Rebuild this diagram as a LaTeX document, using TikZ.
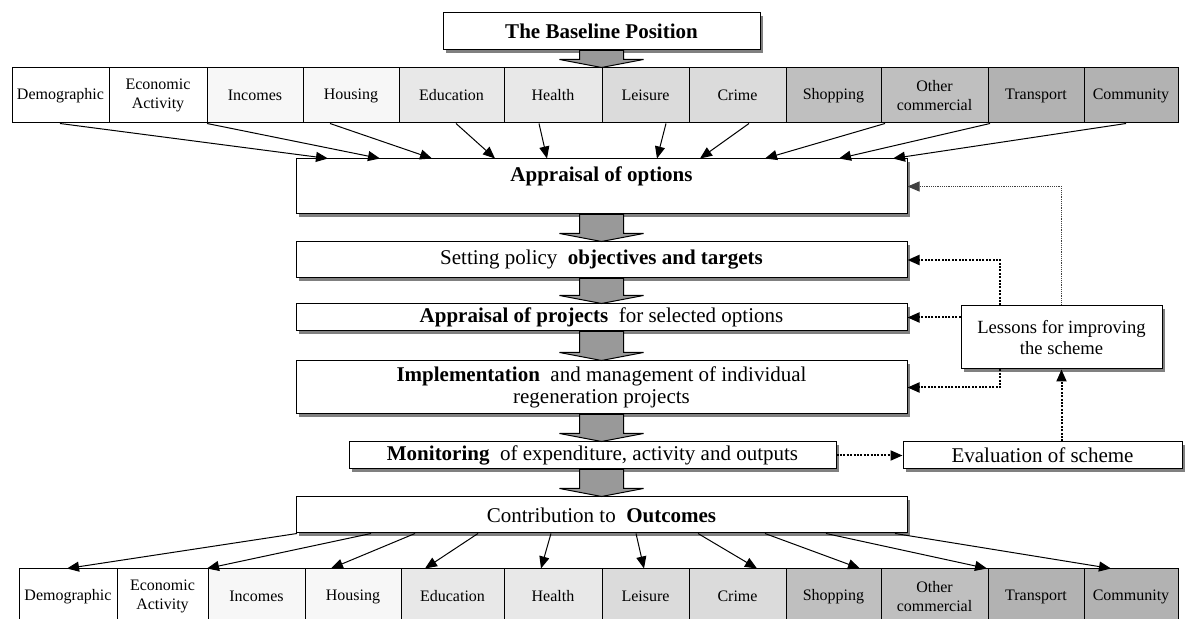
\documentclass[tikz,border=0pt]{standalone}
\usepackage{fontspec}
\setmainfont{Liberation Serif}
\usetikzlibrary{arrows.meta, calc, shadows}
\definecolor{toneA}{gray}{0.97}
\definecolor{toneB}{gray}{0.91}
\definecolor{toneC}{gray}{0.86}
\definecolor{toneD}{gray}{0.75}
\definecolor{toneE}{gray}{0.70}
\definecolor{arrowgray}{gray}{0.6}
\definecolor{shadowgray}{gray}{0.5}

\tikzset{
  stage/.style={draw, line width=0.5pt, fill=white, inner sep=0pt, align=center,
    font={\fontsize{10.5}{11}\selectfont},
    drop shadow={shadow xshift=1.5pt, shadow yshift=-1.5pt, fill=shadowgray, opacity=1}},
  cell/.style={draw, line width=0.5pt, inner sep=0pt, align=center, minimum height=27.5pt,
    font={\fontsize{8}{9.5}\selectfont}},
  fatarrow/.style={fill=arrowgray, draw=black, line width=0.5pt},
  thinarr/.style={line width=0.5pt, -{Triangle[length=6pt,width=5pt]}},
  loopback/.style={line width=1pt, dash pattern=on 1pt off 0.7pt, -{Triangle[length=6pt,width=5pt]}},
  loopfaint/.style={line width=0.5pt, dash pattern=on 0.6pt off 0.5pt, black!75, -{Triangle[length=6pt,width=5pt]}}
}

% wide grey arrow from a top point down to a tip point
\newcommand{\blockarrow}[2]{%
  \coordinate (ba-top) at (#1);
  \coordinate (ba-tip) at (#2);
  \filldraw[fatarrow] ($(ba-top)+(-22,0)$) -- ($(ba-tip)+(-22,-8)$) -- ($(ba-tip)+(-42,-8)$)
    -- (ba-tip) -- ($(ba-tip)+(42,-8)$) -- ($(ba-tip)+(22,-8)$) -- ($(ba-top)+(22,0)$) -- cycle;
}

\begin{document}
\begin{tikzpicture}[x=0.5pt, y=-0.5pt]
  \useasboundingbox (0,0) rectangle (1200,619);

  % baseline
  \node[stage, minimum width=158.5pt, minimum height=18.5pt] (base) at (601.5,31.5)
    {\textbf{The Baseline Position}};

  % top row of themes
  \foreach \nm/\xa/\xb/\tone/\txt [evaluate=\xb as \cw using (\xb-\xa)/2,
      evaluate=\xb as \cx using (\xa+\xb)/2] in
    {dem/12/109/white/Demographic, eco/109/207/white/{Economic\\Activity},
     inc/207/303/toneA/Incomes, hou/303/399/toneA/Housing,
     edu/399/504/toneB/Education, hea/504/602/toneB/Health,
     lei/602/689/toneC/Leisure, cri/689/786/toneC/Crime,
     sho/786/881/toneD/Shopping, oth/881/988/toneD/{Other\\commercial},
     tra/988/1084/toneE/Transport, com/1084/1178/toneE/Community}
    \node[cell, fill=\tone, minimum width=\cw pt] (t\nm) at (\cx,95.5) {\txt};

  % bottom row of themes
  \foreach \nm/\xa/\xb/\tone/\txt [evaluate=\xb as \cw using (\xb-\xa)/2,
      evaluate=\xb as \cx using (\xa+\xb)/2] in
    {dem/19/117/white/Demographic, eco/117/208/white/{Economic\\Activity},
     inc/208/305/toneA/Incomes, hou/305/401/toneA/Housing,
     edu/401/504/toneB/Education, hea/504/602/toneB/Health,
     lei/602/689/toneC/Leisure, cri/689/786/toneC/Crime,
     sho/786/881/toneD/Shopping, oth/881/988/toneD/{Other\\commercial},
     tra/988/1084/toneE/Transport, com/1084/1178/toneE/Community}
    \node[cell, fill=\tone, minimum width=\cw pt] (b\nm) at (\cx,596.5) {\txt};

  % main column
  \node[stage, minimum width=305.5pt, minimum height=27.5pt,
    label={[anchor=north, inner sep=0pt, yshift=-4pt, font={\fontsize{10.5}{11}\selectfont}]north:\textbf{Appraisal of options}}]
    (appr) at (601.5,186.5) {};
  \node[stage, minimum width=305.5pt, minimum height=18pt] (sett) at (601.5,260)
    {Setting policy\ \ \textbf{objectives and targets}};
  \node[stage, minimum width=305.5pt, minimum height=13.5pt] (proj) at (601.5,317.5)
    {\textbf{Appraisal of projects}\ \ for selected options};
  \node[stage, minimum width=305.5pt, minimum height=26.5pt] (impl) at (601.5,387.5)
    {\textbf{Implementation}\ \ and management of individual\\regeneration projects};
  \node[stage, minimum width=243.5pt, minimum height=13.5pt] (moni) at (592.5,455.5)
    {\textbf{Monitoring}\ \ of expenditure, activity and outputs};
  \node[stage, minimum width=305.5pt, minimum height=18pt] (cont) at (601.5,515)
    {Contribution to\ \ \textbf{Outcomes}};

  % feedback side
  \node[stage, minimum width=139.5pt, minimum height=13.5pt] (eval) at (1042.5,455.5)
    {Evaluation of scheme};
  \node[stage, minimum width=100.5pt, minimum height=31.5pt,
    font={\fontsize{9.3}{10.7}\selectfont}] (less) at (1061.5,337.5)
    {Lessons for improving\\the scheme};

  % grey flow arrows
  \coordinate (rowtop) at (base.south |- tlei.north);
  \blockarrow{base.south}{rowtop}
  \blockarrow{appr.south}{sett.north}
  \blockarrow{sett.south}{proj.north}
  \blockarrow{proj.south}{impl.north}
  \blockarrow{impl.south}{impl.south |- moni.north}
  \blockarrow{cont.north |- moni.south}{cont.north}

  % themes into appraisal
  \foreach \src/\xs/\xe in {tdem/60/328, teco/207/380, thou/330/432, tedu/456/495,
      thea/539/547, tlei/666/657, tcri/749/700, toth/885/765, ttra/990/839, tcom/1126/893}
    \draw[thinarr] (\xs,0 |- \src.south) -- (\xe,0 |- appr.north);

  % outcomes into themes
  \foreach \dst/\xs/\xe in {bdem/297/67, beco/371/207, bhou/415/331, bedu/478/425,
      bhea/551/541, blei/636/644, bcri/698/757, bsho/765/860, btra/826/987, bcom/895/1111}
    \draw[thinarr] (\xs,0 |- cont.south) -- (\xe,0 |- \dst.north);

  % feedback loop
  \draw[loopback] (moni.east) -- (eval.west);
  \draw[loopback] (less.south |- eval.north) -- (less.south);
  \draw[loopback] (1000,0 |- less.north) |- (sett.east);
  \draw[loopback] (less.west |- proj.east) -- (proj.east);
  \draw[loopback] (1000,0 |- less.south) |- (impl.east);
  \draw[loopfaint] (less.north) |- (appr.east);
\end{tikzpicture}
\end{document}
